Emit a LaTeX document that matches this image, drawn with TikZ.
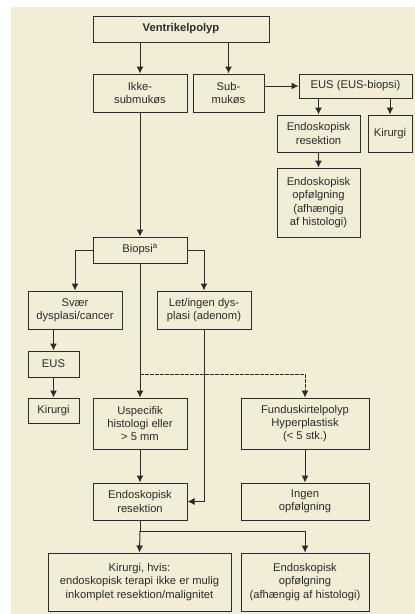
\documentclass[tikz,border=0pt]{standalone}
\usepackage{fontspec}
\setmainfont{Liberation Sans}
\usetikzlibrary{arrows.meta}
\definecolor{cream}{HTML}{F2EDD6}
\definecolor{ink}{HTML}{2B2B2B}

\begin{document}
\begin{tikzpicture}[x=1pt,y=-1pt,>={Latex[length=7pt,width=7pt]},line width=1pt,draw=ink,
  box/.style={draw=ink,fill=cream,text=ink,align=center,inner sep=0pt,
    font=\fontsize{11.2}{13.4}\selectfont},
  arr/.style={->,draw=ink}]
  \useasboundingbox (0,0) rectangle (415,614);
  \fill[cream] (11,7) rectangle (415,614);
  % top part
  \node[box,minimum width=176pt,minimum height=26pt] (vp) at (181,29) {\textbf{Ventrikelpolyp}};
  \node[box,minimum width=94pt,minimum height=38pt] (ikke) at (140,93) {Ikke-\\submukøs};
  \node[box,minimum width=71pt,minimum height=38pt] (sub) at (228.5,93) {Sub-\\mukøs};
  \node[box,minimum width=113pt,minimum height=24pt] (eus1) at (355.5,86) {EUS (EUS-biopsi)};
  \node[box,minimum width=83pt,minimum height=37pt] (res1) at (318.5,133.5) {Endoskopisk\\resektion};
  \node[box,minimum width=44pt,minimum height=37pt] (kir1) at (390,133.5) {Kirurgi};
  \node[box,minimum width=83pt,minimum height=69pt] (opf1) at (318.5,202.5) {Endoskopisk\\opfølgning\\(afhængig\\af histologi)};
  % biopsi
  \node[box,minimum width=94pt,minimum height=26pt] (biopsi) at (140,250) {Biopsi\textsuperscript{a}};
  \node[box,minimum width=94pt,minimum height=38pt] (svaer) at (75,310) {Svær\\dysplasi/cancer};
  \node[box,minimum width=94pt,minimum height=38pt] (let) at (204,310) {Let/ingen dys-\\plasi (adenom)};
  \node[box,minimum width=51pt,minimum height=26pt] (eus2) at (53.5,364) {EUS};
  \node[box,minimum width=51pt,minimum height=25pt] (kir2) at (53.5,410.5) {Kirurgi};
  \node[box,minimum width=94pt,minimum height=51pt] (usp) at (140,423.5) {Uspecifik\\histologi eller\\> 5 mm};
  \node[box,minimum width=128pt,minimum height=51pt] (fund) at (305,423.5) {Funduskirtelpolyp\\Hyperplastisk\\(< 5 stk.)};
  \node[box,minimum width=94pt,minimum height=37pt] (res2) at (140,501.5) {Endoskopisk\\resektion};
  \node[box,minimum width=128pt,minimum height=37pt] (ingen) at (305,501.5) {Ingen\\opfølgning};
  \node[box,minimum width=183pt,minimum height=58pt] (kir3) at (139.5,582) {Kirurgi, hvis:\\endoskopisk terapi ikke er mulig\\inkomplet resektion/malignitet};
  \node[box,minimum width=128pt,minimum height=58pt] (opf2) at (305,582) {Endoskopisk\\opfølgning\\(afhængig af histologi)};
  \coordinate (split) at (140,374);
  \coordinate (fork) at (140,531);

  \draw[arr] (ikke |- vp.south) -- (ikke.north);
  \draw[arr] (sub |- vp.south) -- (sub.north);
  \draw[arr] (eus1.west -| sub.east) -- (eus1.west);
  \draw[arr] (res1 |- eus1.south) -- (res1.north);
  \draw[arr] (kir1 |- eus1.south) -- (kir1.north);
  \draw[arr] (res1) -- (opf1);
  \draw[arr] (ikke) -- (biopsi);
  \draw[arr] (biopsi.west) -| (svaer.north);
  \draw[arr] (biopsi.east) -| (let.north);
  \draw[arr] (eus2 |- svaer.south) -- (eus2.north);
  \draw[arr] (eus2) -- (kir2);
  \draw[arr] (biopsi) -- (usp);
  \draw[arr,dash pattern=on 3.5pt off 1.5pt] (split) -| (fund.north);
  \draw[arr] (let.south) |- (res2.east);
  \draw[arr] (usp) -- (res2);
  \draw[arr] (fund) -- (ingen);
  \draw (res2.south) -- (fork);
  \draw[arr] (fork) -- (kir3.north);
  \draw[arr] (fork) -| (opf2.north);
\end{tikzpicture}
\end{document}
